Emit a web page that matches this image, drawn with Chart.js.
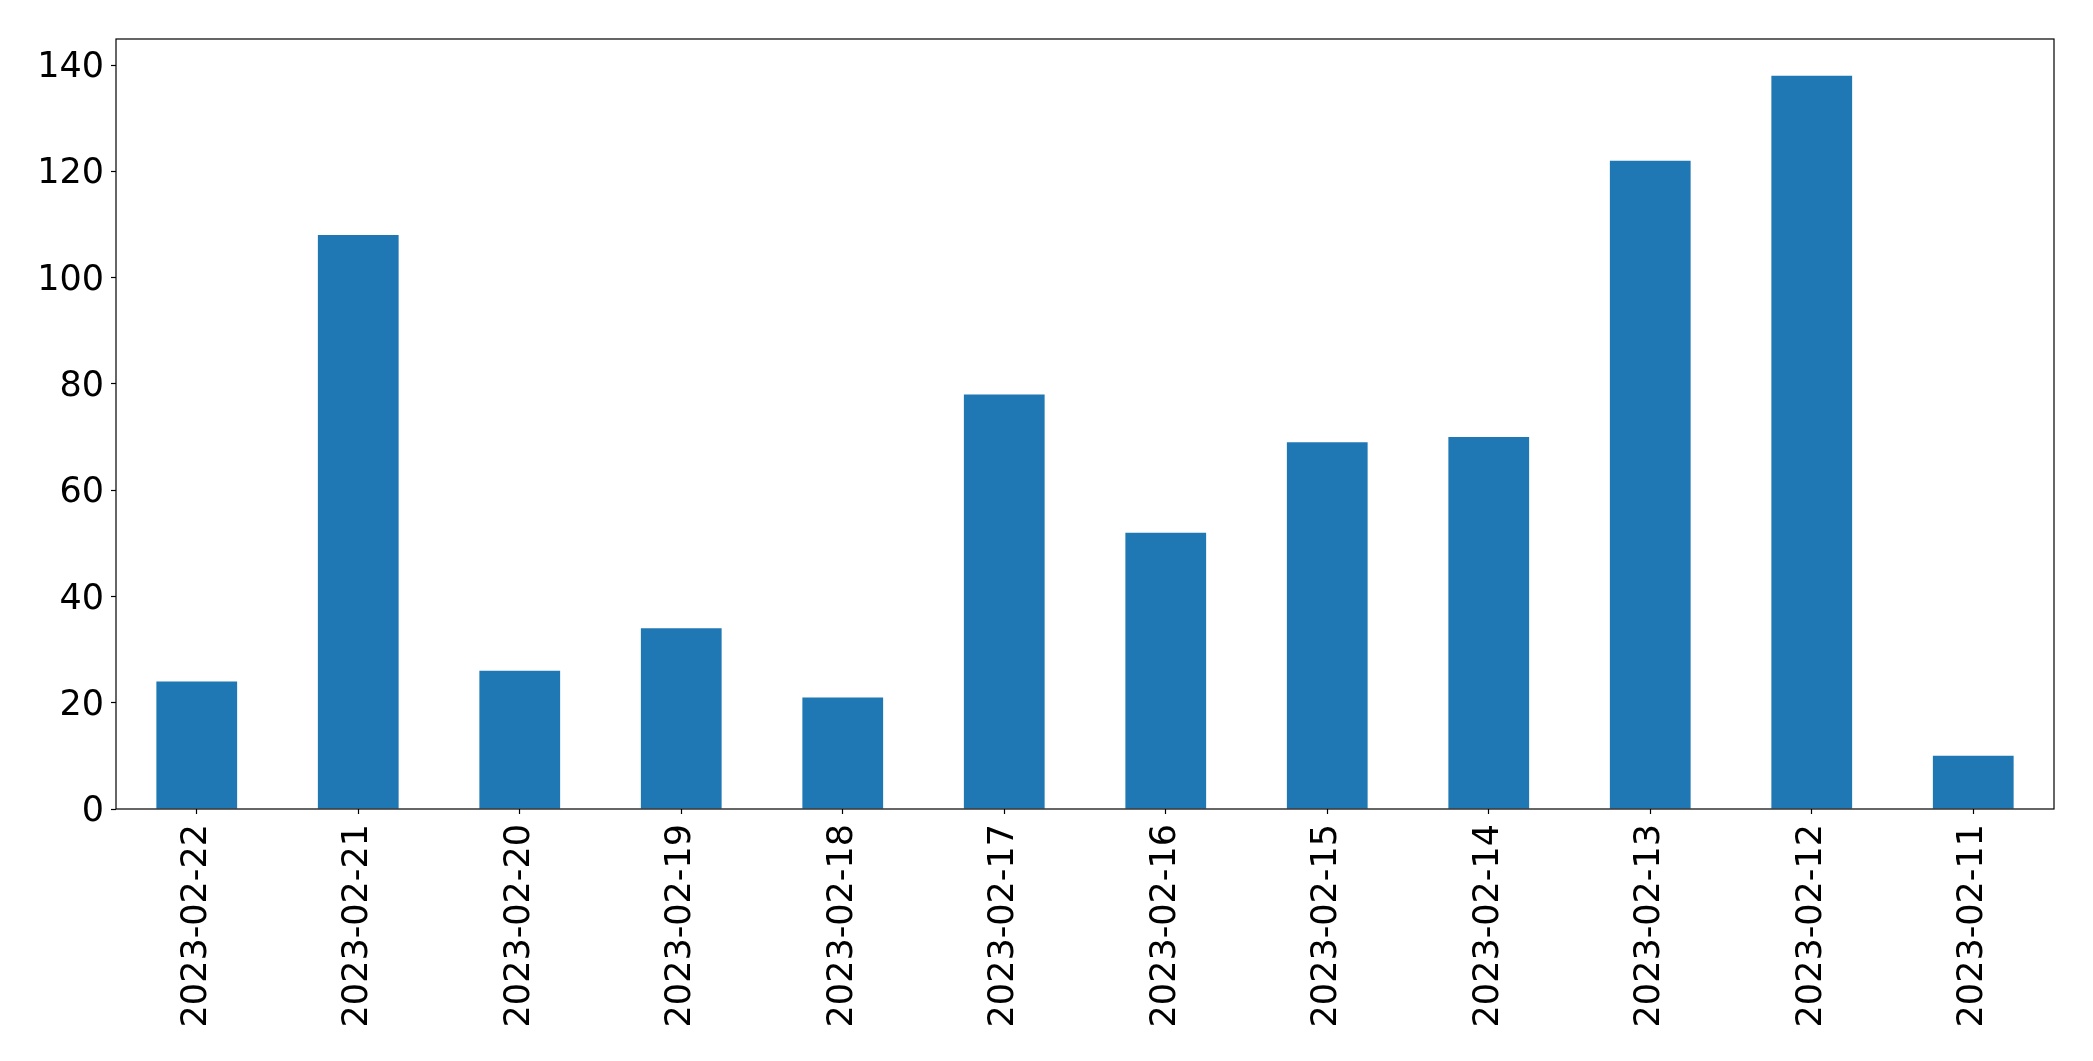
<!DOCTYPE html>
<html>
<head>
<meta charset="utf-8">
<script src="https://cdn.jsdelivr.net/npm/chart.js@4.4.0/dist/chart.umd.min.js"></script>
<style>
  html, body { margin: 0; padding: 0; background: #fff; }
  #wrap { width: 2093px; height: 1061px; }
</style>
</head>
<body>
<div id="wrap"><canvas id="chart1" width="2093" height="1061"></canvas></div>
<script>
const dates = [
  "2023-02-22", "2023-02-21", "2023-02-20", "2023-02-19", "2023-02-18", "2023-02-17",
  "2023-02-16", "2023-02-15", "2023-02-14", "2023-02-13", "2023-02-12", "2023-02-11",
];
const counts = [24, 108, 26, 34, 21, 78, 52, 69, 70, 122, 138, 10];
const yTicks = [0, 20, 40, 60, 80, 100, 120, 140];

Chart.defaults.font.family = "'DejaVu Sans', sans-serif";
Chart.defaults.font.size = 35;
Chart.defaults.color = "#000";

// frame around the plot area, like matplotlib's spines
const framePlugin = {
  id: "frame",
  afterDraw(chart) {
    const { ctx, chartArea: a } = chart;
    ctx.save();
    ctx.strokeStyle = "#000";
    ctx.lineWidth = 1.2;
    ctx.strokeRect(a.left, a.top, a.right - a.left, a.bottom - a.top);
    ctx.restore();
  },
};

function generateChart() {
  const data = {
    labels: dates,
    datasets: [
      {
        data: counts,
        backgroundColor: "#1f77b4",
        categoryPercentage: 1,
        barPercentage: 0.5,
      },
    ],
  };

  const config = {
    type: "bar",
    data: data,
    options: {
      responsive: false,
      animation: false,
      layout: { padding: { left: 0, top: 39, right: 39, bottom: 0 } },
      plugins: {
        legend: { display: false },
        tooltip: { enabled: false },
      },
      scales: {
        x: {
          afterFit(scale) { scale.height = 252; },
          border: { display: false },
          grid: {
            offset: false,
            drawOnChartArea: false,
            drawTicks: true,
            tickLength: 5,
            tickColor: "#000",
            tickWidth: 1.2,
          },
          ticks: { minRotation: 90, maxRotation: 90, padding: 10, autoSkip: false },
        },
        y: {
          min: 0,
          max: Math.max(...counts) * 1.05,
          afterFit(scale) { scale.width = 116; },
          afterBuildTicks(scale) { scale.ticks = yTicks.map((v) => ({ value: v })); },
          border: { display: false },
          grid: {
            drawOnChartArea: false,
            drawTicks: true,
            tickLength: 5,
            tickColor: "#000",
            tickWidth: 1.2,
          },
          ticks: { padding: 7, labelOffset: 3 },
        },
      },
    },
    plugins: [framePlugin],
  };

  new Chart(document.getElementById("chart1"), config);
}

generateChart();
</script>
</body>
</html>
